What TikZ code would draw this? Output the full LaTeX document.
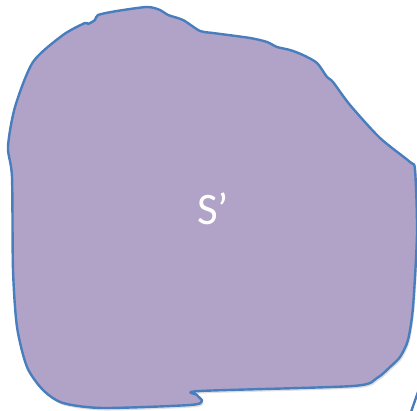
\documentclass[tikz,border=0pt]{standalone}
\usepackage{fontspec}
\setmainfont{Carlito}
\definecolor{blobfill}{RGB}{177,162,199}
\definecolor{blobline}{RGB}{72,126,190}
\tikzset{
  blob/.style={fill=blobfill, draw=blobline, line width=2.4pt, line join=round},
  blobshadow/.style={fill=black, opacity=0.12, draw=none},
  label/.style={text=white, font=\fontsize{45}{50}\selectfont, inner sep=0pt}
}
\begin{document}
\begin{tikzpicture}[x=1pt,y=-1pt]
\useasboundingbox (0,0) rectangle (417,411);
\clip (0,0) rectangle (417,411);
\def\blobpath{plot[smooth cycle, tension=0.45] coordinates {
 (15,107) (33,62) (63,35) (85,23) (88,24) (95,20) (98,15)
 (117,11) (147,7) (160,10) (168,15) (183,20) (200,31) (213,33)
 (250,38) (267,42) (277,47) (290,50) (303,55) (317,63) (327,77)
 (333,82) (350,105) (380,138) (410,162) (415,170) (417,233)
 (413,307) (408,340) (400,357) (390,367) (377,378) (353,386)
 (200,391) (197,395) (202,401) (190,405) (103,408) (63,403)
 (43,390) (27,367) (17,327) (13,270) (12,177) (8,147)}}
\fill[blobshadow, xshift=1.5pt, yshift=-2.5pt] \blobpath;
\path[blob] \blobpath;
\coordinate (fragA) at (418,392);
\coordinate (fragB) at (411,412);
\draw[draw=blobline, line width=2.4pt] (fragA) -- (fragB);
\node[label] (sp) at (213,209) {S’};
\end{tikzpicture}
\end{document}
